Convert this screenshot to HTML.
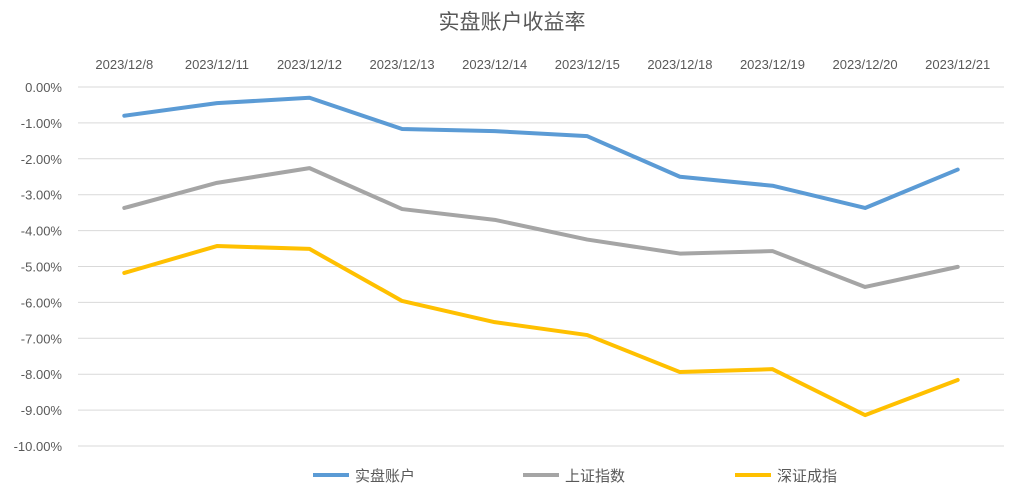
<!DOCTYPE html>
<html><head><meta charset="utf-8"><style>
html,body{margin:0;padding:0;background:#fff;width:1024px;height:503px;overflow:hidden}
svg text{font-family:"Liberation Sans","Noto Sans CJK SC",sans-serif;fill:#595959}
</style></head><body>
<svg id="chart" width="1024" height="503" xmlns="http://www.w3.org/2000/svg">
<text x="512" y="29" text-anchor="middle" font-size="21">实盘账户收益率</text>
<g id="grid"></g><g id="xlabels"></g><g id="ylabels"></g><g id="series"></g>
<g id="legend"></g>
</svg>
<script>
const categories=["2023/12/8","2023/12/11","2023/12/12","2023/12/13","2023/12/14","2023/12/15","2023/12/18","2023/12/19","2023/12/20","2023/12/21"];
const account=[-0.80,-0.45,-0.30,-1.17,-1.23,-1.37,-2.50,-2.75,-3.37,-2.30];
const shIndex=[-3.37,-2.67,-2.26,-3.40,-3.70,-4.25,-4.64,-4.57,-5.57,-5.01];
const szIndex=[-5.18,-4.43,-4.51,-5.96,-6.55,-6.91,-7.94,-7.86,-9.14,-8.16];
const yTicks=[0,-1,-2,-3,-4,-5,-6,-7,-8,-9,-10];
const seriesNames=["实盘账户","上证指数","深证成指"];
const NS="http://www.w3.org/2000/svg";
const L=78,R=1004,T=87,B=446;
const x=i=>L+(R-L)/categories.length*(i+0.5);
const y=v=>T+(0-v)/10*(B-T);
function mk(t,a,p){const e=document.createElementNS(NS,t);for(const k in a)e.setAttribute(k,a[k]);p.appendChild(e);return e;}
const grid=document.getElementById('grid'),yl=document.getElementById('ylabels'),xl=document.getElementById('xlabels'),sg=document.getElementById('series'),lg=document.getElementById('legend');
yTicks.forEach(v=>{
 const ln=mk('line',{x1:L,x2:R,y1:y(v),y2:y(v),stroke:'#d9d9d9','stroke-width':1},grid);
 
 
 const t=mk('text',{x:62,y:y(v)+5,'text-anchor':'end','font-size':13},yl);
 t.textContent=v.toFixed(2)+'%';
 
 
});
categories.forEach((c,i)=>{
 const t=mk('text',{x:x(i),y:69,'text-anchor':'middle','font-size':13},xl);
 t.textContent=c;
 
 
});
const colors=['#5b9bd5','#a5a5a5','#ffc000'];
[account,shIndex,szIndex].forEach((d,s)=>{
 const p=mk('polyline',{points:d.map((v,i)=>x(i)+','+y(v)).join(' '),fill:'none',stroke:colors[s],'stroke-width':4,'stroke-linejoin':'round','stroke-linecap':'round'},sg);
 
 
});
const lx=[313,523,735];
seriesNames.forEach((n,s)=>{
 const l=mk('line',{x1:lx[s],x2:lx[s]+36,y1:475,y2:475,stroke:colors[s],'stroke-width':4},lg);
 
 
 const t=mk('text',{x:lx[s]+42,y:481,'font-size':15},lg);
 t.textContent=n;
 
 
});
</script>
</body></html>
